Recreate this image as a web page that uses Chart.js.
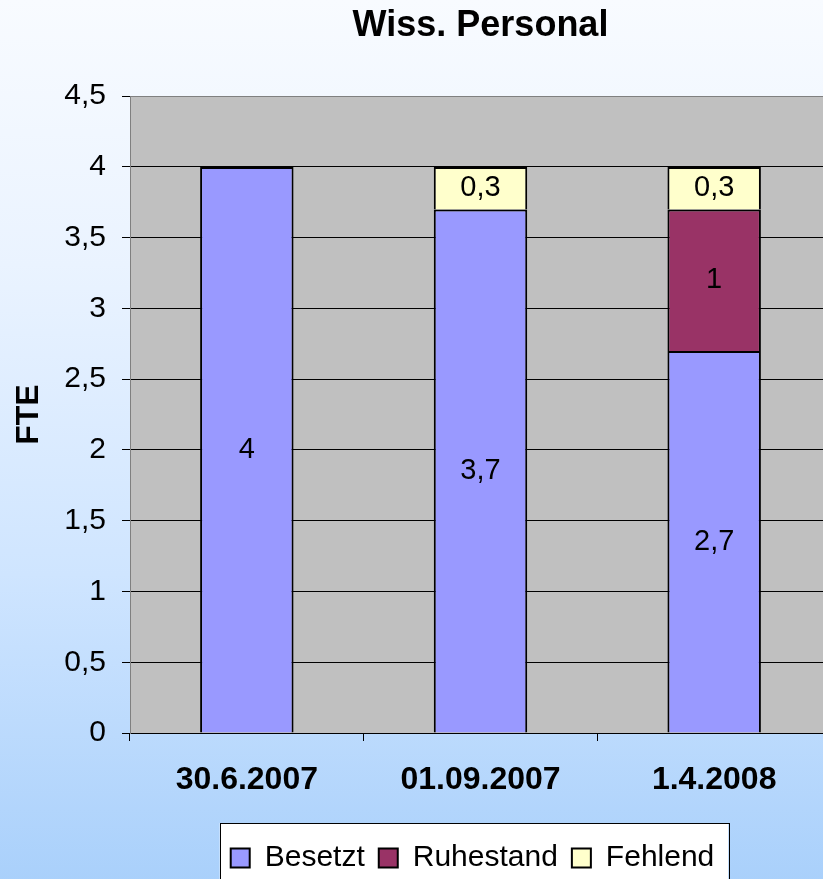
<!DOCTYPE html>
<html>
<head>
<meta charset="utf-8">
<script src="https://cdn.jsdelivr.net/npm/chart.js@4/dist/chart.umd.min.js"></script>
<style>
  html, body { margin: 0; padding: 0; overflow: hidden; width: 823px; height: 879px; }
  #wrap {
    position: absolute; left: 0; top: 0; width: 835px; height: 883px;
    background: linear-gradient(to bottom, #f8fbff 0%, #eaf3ff 30%, #cfe5ff 65%, #a9d0fb 100%);
  }
</style>
</head>
<body>
<div id="wrap"><canvas id="chart" width="835" height="883"></canvas></div>
<script>
// categories and values
var categories = ['30.6.2007', '01.09.2007', '1.4.2008'];
var besetzt = [4, 3.7, 2.7];
var ruhestand = [null, null, 1];
var fehlend = [null, 0.3, 0.3];
var yTicks = { min: 0, max: 4.5, step: 0.5 };

// german decimal comma
var fmt = function(v) { return String(v).replace('.', ','); };

Chart.defaults.font.family = "'Liberation Sans', Arial, sans-serif";
Chart.defaults.color = '#000';

// gray plot area + white legend frame, drawn under everything else
var backdrop = {
  id: 'backdrop',
  afterLayout: function(chart) {
    // legend in the reference sits a bit left of the plot centre
    chart.legend.left -= 8;
    chart.legend.right -= 8;
  },
  beforeDraw: function(chart) {
    var ctx = chart.ctx, a = chart.chartArea;
    ctx.save();
    ctx.fillStyle = '#c0c0c0';
    ctx.fillRect(a.left, a.top, a.right - a.left, a.bottom - a.top);
    var boxes = chart.legend.legendHitBoxes;
    if (boxes && boxes.length) {
      var last = boxes[boxes.length - 1];
      var l = boxes[0].left, r = last.left + last.width;
      var top = Math.round(boxes[0].top + boxes[0].height / 2 - 35);
      ctx.fillStyle = '#fff';
      ctx.fillRect(l - 11, top, r - l + 25, 100);
      ctx.strokeStyle = '#000';
      ctx.lineWidth = 1;
      ctx.strokeRect(Math.round(l - 11) + 0.5, top + 0.5, Math.round(r - l + 25), 100);
    }
    ctx.restore();
  }
};

// values written in the middle of each segment
var segLabels = {
  id: 'segLabels',
  afterDatasetsDraw: function(chart) {
    var ctx = chart.ctx;
    ctx.save();
    ctx.font = "29px 'Liberation Sans', Arial, sans-serif";
    ctx.fillStyle = '#000';
    ctx.textAlign = 'center';
    ctx.textBaseline = 'middle';
    chart.data.datasets.forEach(function(ds, i) {
      chart.getDatasetMeta(i).data.forEach(function(bar, j) {
        var v = ds.data[j];
        if (v == null) return;
        ctx.fillText(fmt(v), bar.x, (bar.y + bar.base) / 2);
      });
    });
    ctx.restore();
  }
};

var ctx = document.getElementById('chart').getContext('2d');
var myChart = new Chart(ctx, {
  type: 'bar',
  data: {
    labels: categories,
    datasets: [
      { label: 'Besetzt', data: besetzt, backgroundColor: '#9999ff' },
      { label: 'Ruhestand', data: ruhestand, backgroundColor: '#993366' },
      { label: 'Fehlend', data: fehlend, backgroundColor: '#ffffcc' }
    ]
  },
  options: {
    responsive: false,
    animation: false,
    layout: { padding: { left: 0, right: 4, top: 0, bottom: 0 } },
    datasets: {
      bar: {
        borderColor: '#000',
        borderWidth: 2,
        categoryPercentage: 1,
        barPercentage: 0.4
      }
    },
    plugins: {
      tooltip: { enabled: false },
      title: {
        display: true,
        text: 'Wiss. Personal',
        fullSize: false,
        font: { size: 36, weight: 'bold' },
        padding: { top: 4, bottom: 49 }
      },
      legend: {
        position: 'bottom',
        fullSize: false,
        labels: {
          boxWidth: 19,
          boxHeight: 19,
          padding: 14,
          font: { size: 30 }
        }
      }
    },
    scales: {
      x: {
        stacked: true,
        afterFit: function(s) { s.height = 96; },
        grid: { offset: true, drawOnChartArea: false, tickLength: 8, color: '#000' },
        border: { color: '#000' },
        ticks: { padding: 20, font: { size: 32, weight: 'bold' } }
      },
      y: {
        stacked: true,
        min: yTicks.min,
        max: yTicks.max,
        afterFit: function(s) { s.width = 130; },
        grid: {
          tickLength: 8,
          tickColor: '#000',
          color: function(c) { return c.tick && c.tick.value === yTicks.max ? '#808080' : '#000'; }
        },
        border: { color: '#808080' },
        ticks: {
          stepSize: yTicks.step,
          padding: 16,
          font: { size: 30 },
          callback: function(v) { return fmt(v); }
        },
        title: {
          display: true,
          text: 'FTE',
          font: { size: 32, weight: 'bold' },
          padding: { top: 10, bottom: 0 }
        }
      }
    }
  },
  plugins: [backdrop, segLabels]
});
</script>
</body>
</html>
